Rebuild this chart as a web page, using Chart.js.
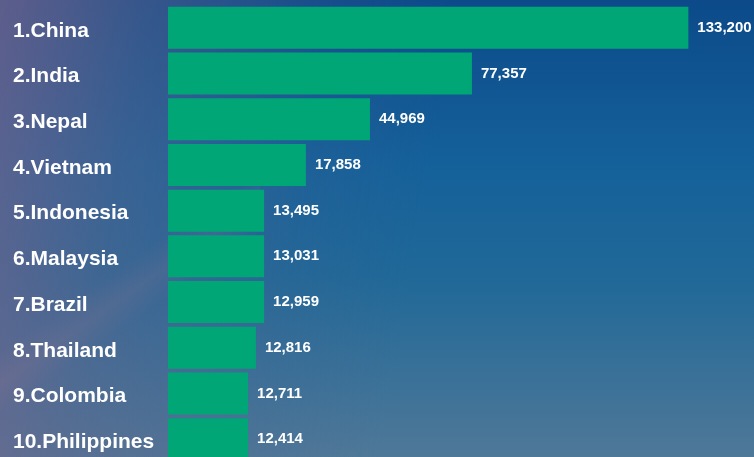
<!DOCTYPE html>
<html>
<head>
<meta charset="utf-8">
<script src="https://cdn.jsdelivr.net/npm/chart.js@4"></script>
<style>
  html, body { margin: 0; padding: 0; width: 754px; height: 457px; overflow: hidden; }
  body {
    background:
      linear-gradient(145deg, rgba(0,0,0,0) 55%, rgba(160,120,145,0.16) 60%, rgba(0,0,0,0) 65%) 0 0 / 260px 457px no-repeat,
      linear-gradient(100deg, rgba(120,100,140,0.75) 0%, rgba(100,100,140,0.45) 18%, rgba(80,95,140,0.15) 40%, rgba(60,90,140,0) 55%),
      linear-gradient(180deg, #0c4a8a 0%, #14609a 35%, #1f6898 60%, #4f7898 100%);
  }
  #wrap { position: absolute; left: 0; top: 0; width: 754px; height: 462px; }
</style>
</head>
<body>
<div id="wrap"><canvas id="c"></canvas></div>
<script>
// Categories (rank + country) as printed
const categories = ["1.China", "2.India", "3.Nepal", "4.Vietnam", "5.Indonesia",
                    "6.Malaysia", "7.Brazil", "8.Thailand", "9.Colombia", "10.Philippines"];
// Values printed beside the bars
const labelValues = [133200, 77357, 44969, 17858, 13495, 13031, 12959, 12816, 12711, 12414];
// Bar lengths as drawn in this (mid-animation) frame, read in the same units
const barValues = [133200, 77800, 51700, 35300, 24600, 24600, 24600, 22500, 20500, 20500];

const fmt = v => v.toLocaleString('en-US');

const valueLabels = {
  id: 'valueLabels',
  afterDatasetsDraw(chart) {
    const ctx = chart.ctx;
    const meta = chart.getDatasetMeta(0);
    ctx.save();
    ctx.font = 'bold 15px "Liberation Sans", Arial, sans-serif';
    ctx.fillStyle = '#ffffff';
    ctx.textAlign = 'left';
    ctx.textBaseline = 'middle';
    meta.data.forEach((bar, i) => {
      ctx.fillText(fmt(labelValues[i]), bar.x + 9, bar.y);
    });
    ctx.restore();
  }
};

new Chart(document.getElementById('c'), {
  type: 'bar',
  data: {
    labels: categories,
    datasets: [{
      data: barValues,
      backgroundColor: '#00a676',
      borderWidth: 0,
      barPercentage: 0.92,
      categoryPercentage: 1.0
    }]
  },
  options: {
    indexAxis: 'y',
    responsive: true,
    maintainAspectRatio: false,
    animation: false,
    layout: { padding: { left: 13, top: 5, right: 0, bottom: 0 } },
    plugins: { legend: { display: false }, tooltip: { enabled: false } },
    scales: {
      x: {
        min: 0, max: 150000,
        display: false,
        grid: { display: false }
      },
      y: {
        grid: { display: false },
        border: { display: false },
        afterFit(scale) { scale.width = 155; scale.paddingTop = 0; scale.paddingBottom = 0; },
        ticks: {
          crossAlign: 'far',
          padding: 0,
          labelOffset: 3,
          color: '#ffffff',
          font: { family: '"Liberation Sans", Arial, sans-serif', size: 21, weight: 'bold' }
        }
      }
    }
  },
  plugins: [valueLabels]
});
</script>
</body>
</html>
